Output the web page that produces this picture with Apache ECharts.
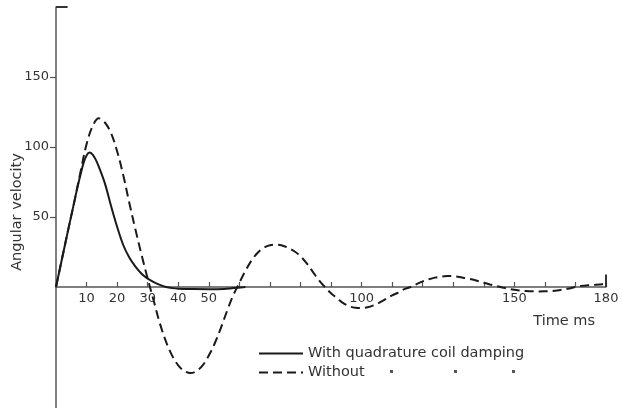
<!DOCTYPE html>
<html>
<head>
<meta charset="utf-8">
<style>
  html, body { margin: 0; padding: 0; background: #fff; }
  #chart { width: 623px; height: 408px; }
</style>
<script src="https://cdn.jsdelivr.net/npm/echarts@6/dist/echarts.min.js"></script>
</head>
<body>
<div id="chart"></div>
<script>
// Time in ms and angular velocity for the damped response
const dampedTime   = [0, 2, 4, 6, 7, 8, 9, 10, 11, 12, 13, 14, 16, 18, 20, 22, 24, 26, 28, 30, 32, 34, 36, 38, 40, 45, 50, 55, 58, 62];
const dampedValues = [0, 20.5, 41, 61, 71, 80, 88.5, 94, 96, 94.5, 91, 86, 74, 58, 43, 30, 21, 14.5, 9.5, 6, 3.5, 1.5, 0, -0.8, -1.2, -1.5, -1.6, -1.4, -0.8, 0];

// Time in ms and angular velocity without the quadrature coil
const undampedTime = [0, 2, 4, 6, 8, 10, 12, 14, 16, 18, 20, 22, 24, 26, 28, 30, 32, 34, 36, 38, 40, 42, 44, 46, 48, 50,
  52, 54, 56, 58, 60, 62, 64, 66, 68, 70, 72, 74, 76, 78, 80, 82, 84, 86, 88, 90, 92, 94, 96, 98, 100,
  102, 104, 106, 108, 110, 112, 114, 116, 118, 120, 122, 124, 126, 128, 130, 132, 134, 136, 138, 140,
  142, 144, 146, 148, 150, 152, 154, 156, 158, 160, 162, 164, 166, 168, 170, 172, 174, 176, 178, 180];
const undampedValues = [0, 20.5, 41, 61, 82, 102, 115, 120.5, 117.5, 110, 97, 80, 60, 41, 23, 6, -10, -26, -39, -49, -56, -60, -61.5, -60, -56, -49,
  -40, -29, -17, -6, 3, 11.5, 19, 24.5, 28, 29.8, 30.2, 29.7, 28, 25.5, 22, 17, 11, 5, 0, -4.5, -8, -11.5, -13.8, -14.8, -15,
  -14.5, -13, -11, -8.5, -6, -4, -1.5, 0, 2, 4, 5.5, 6.7, 7.4, 7.8, 7.7, 7.2, 6.3, 5.5, 4.3, 3,
  1.8, 0.7, -0.3, -1.2, -2, -2.5, -2.9, -3.1, -3.2, -3.1, -2.9, -2.5, -1.8, -1, 0, 0.8, 1.2, 1.5, 1.8, 2];

// Axis tick positions and the subset that carry labels
const xTickValues  = [10, 20, 30, 40, 50, 60, 70, 80, 90, 100, 110, 120, 130, 140, 150, 160, 170, 180];
const xLabelValues = [10, 20, 30, 40, 50, 100, 150, 180];
const yTickValues  = [50, 100, 150];

const seriesNames = ['With quadrature coil damping', 'Without'];

const pair = (ts, vs) => ts.map((t, i) => [t, vs[i]]);

const ink = '#1a1a1a';
const axisInk = '#555';
const textInk = '#333';
const font = 'DejaVu Sans';

const chart = echarts.init(document.getElementById('chart'), null, { renderer: 'canvas' });

chart.setOption({
  animation: false,
  backgroundColor: '#fff',
  grid: [
    // plot area spans the positive half; the negative swing is drawn below it unclipped
    { left: 56, right: 17, top: 7, height: 280, containLabel: false },
    // strip below the time axis that carries the downward continuation of the vertical axis
    { left: 56, width: 10, top: 287, bottom: 0, containLabel: false }
  ],
  xAxis: [
    {
      type: 'value',
      min: 0,
      max: 180,
      name: 'Time ms',
      nameLocation: 'end',
      nameGap: -11,
      nameTextStyle: { fontFamily: font, fontSize: 14.5, color: textInk, align: 'right', verticalAlign: 'top', padding: [27, 0, 0, 0] },
      axisLine: { lineStyle: { color: axisInk, width: 1.5 } },
      axisTick: { show: true, inside: true, length: 5, customValues: xTickValues, lineStyle: { color: axisInk, width: 1.2 } },
      axisLabel: { customValues: xLabelValues, margin: 5, fontFamily: font, fontSize: 13, color: textInk },
      splitLine: { show: false }
    },
    { gridIndex: 1, type: 'value', show: false, min: 0, max: 1 }
  ],
  yAxis: [
    {
      type: 'value',
      min: 0,
      max: 200,
      axisLine: { show: true, lineStyle: { color: axisInk, width: 1.5 } },
      axisTick: { show: true, length: 6, customValues: yTickValues, lineStyle: { color: axisInk, width: 1.2 } },
      axisLabel: { customValues: yTickValues, margin: 7, fontFamily: font, fontSize: 13, color: textInk },
      splitLine: { show: false }
    },
    {
      gridIndex: 1,
      type: 'value',
      min: 0,
      max: 1,
      axisLine: { show: true, lineStyle: { color: axisInk, width: 1.5 } },
      axisTick: { show: false },
      axisLabel: { show: false },
      splitLine: { show: false }
    }
  ],
  legend: {
    orient: 'vertical',
    left: 253,
    top: 341,
    itemWidth: 44,
    itemHeight: 14,
    itemGap: 4,
    itemStyle: { color: 'rgba(0,0,0,0)', borderColor: 'rgba(0,0,0,0)', borderWidth: 0, opacity: 0 },
    textStyle: { fontFamily: font, fontSize: 14.5, color: textInk },
    data: seriesNames
  },
  series: [
    {
      name: seriesNames[0],
      type: 'line',
      data: pair(dampedTime, dampedValues),
      smooth: 0.35,
      symbol: 'none',
      clip: false,
      lineStyle: { color: ink, width: 2 },
      itemStyle: { color: ink },
      markLine: {
        silent: true,
        symbol: 'none',
        label: { show: false },
        lineStyle: { color: '#333', width: 2, type: 'solid' },
        data: [
          [{ coord: [0, 200] }, { coord: [3.8, 200] }],
          [{ coord: [180, 0] }, { coord: [180, 9] }]
        ]
      }
    },
    {
      name: seriesNames[1],
      type: 'line',
      data: pair(undampedTime, undampedValues),
      smooth: 0.35,
      symbol: 'none',
      clip: false,
      lineStyle: { color: ink, width: 2, type: [9, 5] },
      itemStyle: { color: ink }
    }
  ],
  graphic: [
    {
      type: 'text', x: 17, y: 212, rotation: Math.PI / 2,
      style: { text: 'Angular velocity', font: '14.5px "DejaVu Sans"', fill: textInk, align: 'center', verticalAlign: 'middle' }
    },
    // ditto marks under the legend text
    { type: 'rect', shape: { x: 390, y: 370, width: 3, height: 3 }, style: { fill: '#555' } },
    { type: 'rect', shape: { x: 454, y: 370, width: 3, height: 3 }, style: { fill: '#555' } },
    { type: 'rect', shape: { x: 512, y: 370, width: 3, height: 3 }, style: { fill: '#555' } }
  ]
});
</script>
</body>
</html>
